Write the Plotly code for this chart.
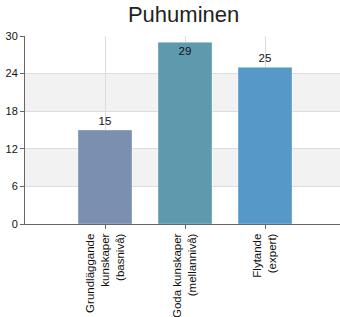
import plotly.graph_objects as go

title = "Puhuminen"
categories = ["Grundläggande<br>kunskaper<br>(basnivå)", "Goda kunskaper<br>(mellannivå)", "Flytande<br>(expert)"]
values = [15, 29, 25]
colors = ["#7b8fb0", "#5e9aad", "#5698c8"]
y_ticks = [0, 6, 12, 18, 24, 30]

x_pos = list(range(len(categories)))
FONT = "Liberation Sans, Arial"

fig = go.Figure()
fig.add_trace(go.Bar(
    x=x_pos, y=values, width=0.675,
    marker=dict(color=colors, line=dict(color="rgba(255,255,255,0.35)", width=1)),
    text=[str(v) for v in values],
    textposition=["outside", "inside", "outside"],
    insidetextanchor="end",
    textfont=dict(family=FONT, size=11.5, color="#111111"),
    insidetextfont=dict(family=FONT, size=11.5, color="#111111"),
    outsidetextfont=dict(family=FONT, size=11.5, color="#111111"),
    cliponaxis=False,
    hoverinfo="skip",
))

shapes = []
for i in range(len(y_ticks) - 1):
    if i % 2 == 1:
        shapes.append(dict(type="rect", xref="paper", yref="y", x0=0, x1=1,
                           y0=y_ticks[i], y1=y_ticks[i + 1],
                           fillcolor="#f2f2f2", line=dict(width=0), layer="below"))

fig.update_layout(
    width=340, height=317,
    margin=dict(l=25, r=0, t=36, b=93, autoexpand=False),
    paper_bgcolor="white", plot_bgcolor="white",
    title=dict(text=title, x=0.54, xanchor="center", y=0.978, yanchor="top",
               font=dict(family=FONT, size=22, color="#222222")),
    shapes=shapes,
    showlegend=False,
    xaxis=dict(
        range=[-1, 2.9375], tickmode="array", tickvals=x_pos, ticktext=categories,
        tickangle=-90, showgrid=True, gridcolor="#dcdcdc", gridwidth=1,
        showline=True, linecolor="#666666", linewidth=1, automargin=False,
        ticks="outside", ticklen=4, tickcolor="#666666", zeroline=False,
        tickfont=dict(family=FONT, size=11.5, color="#111111"),
    ),
    yaxis=dict(
        range=[0, 30], tickmode="array", tickvals=y_ticks,
        showgrid=True, gridcolor="#dcdcdc", gridwidth=1,
        showline=True, linecolor="#666666", linewidth=1, automargin=False,
        ticks="outside", ticklen=4, tickcolor="#666666", zeroline=False,
        tickfont=dict(family=FONT, size=11, color="#111111"),
    ),
)

fig.write_html("out.html", config={"displayModeBar": False},
               post_script="document.body.style.margin='0';document.body.style.overflow='hidden';")
